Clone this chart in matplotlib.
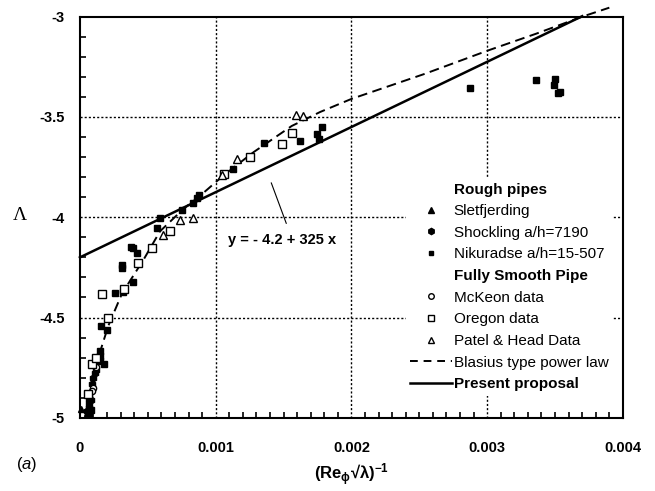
import matplotlib
matplotlib.use('Agg')
import matplotlib.pyplot as plt
from matplotlib.lines import Line2D
from matplotlib.ticker import MultipleLocator

plt.rcParams['font.family'] = ['Liberation Sans', 'DejaVu Sans']
plt.rcParams['mathtext.fontset'] = 'custom'
plt.rcParams['mathtext.rm'] = 'Liberation Sans'
plt.rcParams['mathtext.it'] = 'Liberation Sans:italic'
plt.rcParams['mathtext.bf'] = 'Liberation Sans:bold'

# data
slet_x = [0.00001, 0.00005]
slet_y = [-4.955, -4.975]

shock_x = [0.00011, 0.00010, 0.00009, 0.00008, 0.00007, 0.00005, 0.00012]
shock_y = [-4.775, -4.80, -4.83, -4.91, -4.95, -4.965, -4.76]

niku_x = [0.00287, 0.00336, 0.00350, 0.00349, 0.00354, 0.00352,
          0.001357, 0.00162, 0.00178, 0.00175, 0.00176, 0.00113,
          0.00086, 0.00083, 0.00088, 0.00075, 0.00059, 0.00057,
          0.00039, 0.00042, 0.00038, 0.00031, 0.00031, 0.00026,
          0.00039, 0.00032, 0.000155, 0.000197, 0.000148, 0.000148,
          0.00015, 0.000177, 0.00007, 0.00007, 0.00008, 0.00006, 0.00007]
niku_y = [-3.355, -3.315, -3.31, -3.34, -3.375, -3.38,
          -3.63, -3.62, -3.55, -3.585, -3.61, -3.76,
          -3.905, -3.93, -3.89, -3.965, -4.005, -4.055,
          -4.155, -4.18, -4.15, -4.24, -4.255, -4.38,
          -4.325, -4.375, -4.54, -4.56, -4.665, -4.69,
          -4.715, -4.73, -4.90, -4.93, -4.96, -4.97, -4.985]

mck_x = [0.00010, 0.00009, 0.00012]
mck_y = [-4.85, -4.865, -4.745]

oreg_x = [0.00149, 0.001255, 0.00106, 0.00156, 0.00066, 0.00053, 0.00043,
          0.00016, 0.000325, 0.00021, 0.000086, 0.000116, 0.000057]
oreg_y = [-3.635, -3.70, -3.785, -3.58, -4.07, -4.155, -4.23,
          -4.385, -4.36, -4.50, -4.73, -4.70, -4.88]

patel_x = [0.00159, 0.00164, 0.001157, 0.00074, 0.00083, 0.00061, 0.00105]
patel_y = [-3.49, -3.495, -3.71, -4.015, -4.005, -4.09, -3.79]

# Blasius type power law
blas_x = [0.00007, 0.000086, 0.00013, 0.00021, 0.00031, 0.00047, 0.00059,
          0.00076, 0.00089, 0.00106, 0.00128, 0.00156, 0.00177, 0.0020,
          0.00254, 0.0030, 0.00336, 0.0037, 0.0039]
blas_y = [-4.98, -4.86, -4.71, -4.54, -4.38, -4.21, -4.07,
          -3.96, -3.89, -3.79, -3.675, -3.545, -3.475, -3.41,
          -3.285, -3.17, -3.085, -3.0, -2.955]

# present proposal y = -4.2 + 325 x
intercept = -4.2
slope = 325
prop_x = [0.0, 0.0037]
prop_y = [intercept + slope * v for v in prop_x]

fig = plt.figure(figsize=(6.55, 4.91), dpi=100)
ax = fig.add_axes([0.122, 0.149, 0.829, 0.817])

ax.plot(blas_x, blas_y, color='black', lw=1.4, ls=(0, (5, 2.8)), clip_on=False, zorder=3)
ax.plot(prop_x, prop_y, color='black', lw=1.8, clip_on=False, zorder=3)

ax.plot(slet_x, slet_y, ls='none', marker='^', ms=5, color='black', zorder=4, clip_on=False)
ax.plot(shock_x, shock_y, ls='none', marker='h', ms=5, color='black', zorder=4)
ax.plot(niku_x, niku_y, ls='none', marker='s', ms=4.5, color='black', zorder=4)
ax.plot(mck_x, mck_y, ls='none', marker='o', ms=4.5, mfc='white', mec='black', mew=1, zorder=5)
ax.plot(oreg_x, oreg_y, ls='none', marker='s', ms=6, mfc='white', mec='black', mew=1, zorder=5)
ax.plot(patel_x, patel_y, ls='none', marker='^', ms=6, mfc='white', mec='black', mew=1, zorder=5)

ax.set_xlim(0, 0.004)
ax.set_ylim(-5, -3)
ax.set_xticks([0, 0.001, 0.002, 0.003, 0.004])
ax.set_xticklabels(['0', '0.001', '0.002', '0.003', '0.004'])
ax.set_yticks([-5, -4.5, -4, -3.5, -3])
ax.set_yticklabels(['-5', '-4.5', '-4', '-3.5', '-3'])
ax.xaxis.set_minor_locator(MultipleLocator(0.0001))
ax.yaxis.set_minor_locator(MultipleLocator(0.1))
ax.tick_params(which='both', direction='in', width=1.2, top=False, right=False)
ax.tick_params(which='major', length=0)
ax.tick_params(which='minor', length=4)
ax.tick_params(axis='x', which='major', pad=17)
ax.tick_params(axis='y', which='major', pad=11)
for lab in ax.get_xticklabels() + ax.get_yticklabels():
    lab.set_fontweight('bold')
    lab.set_fontsize(10.5)

for v in [0.001, 0.002, 0.003]:
    ax.axvline(v, color='black', lw=1, ls=(0, (1.5, 1.5)), zorder=1)
for v in [-4.5, -4, -3.5]:
    ax.axhline(v, color='black', lw=1, ls=(0, (1.5, 1.5)), zorder=1)

for s in ax.spines.values():
    s.set_linewidth(1.5)

fig.text(20 / 655, 1 - 215 / 491, 'Λ', fontsize=14, family=['Liberation Serif', 'DejaVu Serif'],
         ha='center', va='center')
ax.set_xlabel('$\\mathbf{(Re}_{\\mathbf{\\phi}}\\mathbf{√λ)^{-1}}$', fontsize=12, labelpad=4)
fig.text(0.025, 0.045, r'($\mathit{a}$)', fontsize=12)

ax.text(0.00109, -4.115, 'y = - 4.2 + 325 x', fontsize=10.5, fontweight='bold', va='center', ha='left')
ax.plot([0.00141, 0.00152], [-3.829, -4.03], color='black', lw=0.8)

blank = Line2D([], [], ls='none')
handles = [
    blank,
    Line2D([], [], ls='none', marker='^', ms=4, color='black'),
    Line2D([], [], ls='none', marker='h', ms=4.5, color='black'),
    Line2D([], [], ls='none', marker='s', ms=3.5, color='black'),
    blank,
    Line2D([], [], ls='none', marker='o', ms=4, mfc='white', mec='black'),
    Line2D([], [], ls='none', marker='s', ms=5, mfc='white', mec='black'),
    Line2D([], [], ls='none', marker='^', ms=4.5, mfc='white', mec='black'),
    Line2D([], [], color='black', lw=1.4, ls=(0, (4, 3))),
    Line2D([], [], color='black', lw=1.8),
]
labels = ['Rough pipes', 'Sletfjerding', 'Shockling a/h=7190', 'Nikuradse a/h=15-507',
          'Fully Smooth Pipe', 'McKeon data', 'Oregon data', 'Patel & Head Data',
          'Blasius type power law', 'Present proposal']
leg = ax.legend(handles, labels, loc='upper left', bbox_to_anchor=(0.6, 0.598),
                fontsize=11, frameon=True, facecolor='white', edgecolor='none',
                framealpha=1, fancybox=False, handlelength=2.7, handletextpad=0.15,
                labelspacing=0.5, borderpad=0.3, borderaxespad=0)
for i, t in enumerate(leg.get_texts()):
    if i in (0, 4, 9):
        t.set_fontweight('bold')
leg.set_zorder(6)

fig.savefig('out.png', dpi=100)
